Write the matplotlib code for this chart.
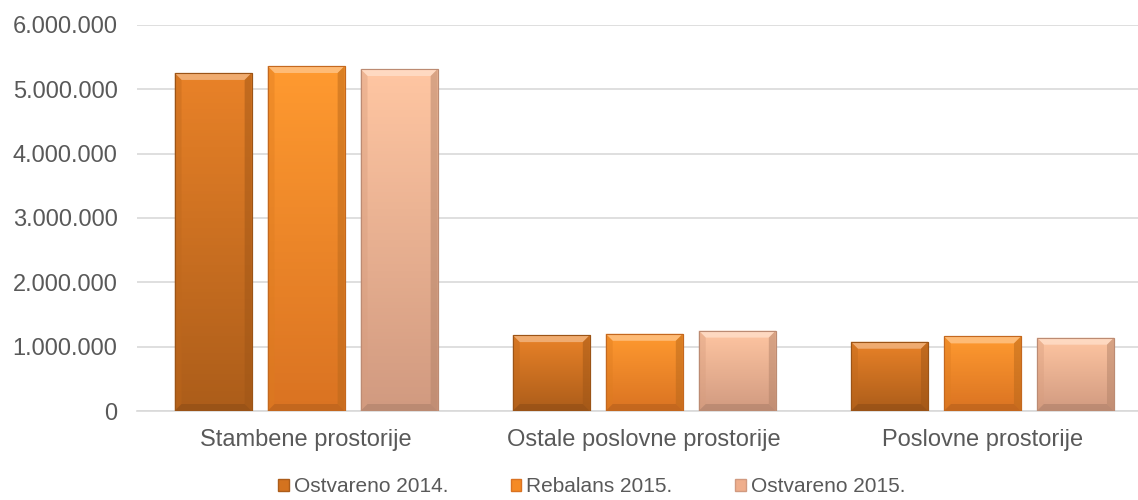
import numpy as np
import matplotlib
matplotlib.use("Agg")
import matplotlib.pyplot as plt
from matplotlib.patches import Polygon, Patch
from matplotlib.colors import LinearSegmentedColormap, to_rgb
from matplotlib.ticker import FuncFormatter

categories = ["Stambene prostorije", "Ostale poslovne prostorije", "Poslovne prostorije"]
series_names = ["Ostvareno 2014.", "Rebalans 2015.", "Ostvareno 2015."]
ostvareno_2014 = [5255000, 1180000, 1077000]
rebalans_2015 = [5363000, 1200000, 1160000]
ostvareno_2015 = [5316000, 1250000, 1140000]

# top colour, bottom colour for each series
top_colors = ["#E98228", "#FF9A30", "#FFC6A2"]
bottom_colors = ["#AC5D1A", "#DA7322", "#D19A80"]
base_colors = ["#D4731F", "#F58A24", "#EFAE8C"]

plt.rcParams['font.family'] = ['Liberation Sans', 'DejaVu Sans']

fig = plt.figure(figsize=(11.38, 5.0), dpi=100)
ax = fig.add_axes([137 / 1138, 89 / 500, 1 - 137 / 1138, 386 / 500])

x = np.arange(len(categories))
step = 0.275
width = 0.228
values = [ostvareno_2014, rebalans_2015, ostvareno_2015]


def shade(c, f):
    r = np.array(to_rgb(c))
    if f > 0:
        return tuple(r + (1 - r) * f)
    return tuple(r * (1 + f))


px_x = 1 / 338.0
px_y = 6000000 / 386.0
bev = 7

for i, vals in enumerate(values):
    bars = ax.bar(x + (i - 1) * step, vals, width, color=base_colors[i],
                  edgecolor=shade(bottom_colors[i], -0.15), linewidth=0.8, zorder=3)
    cmap = LinearSegmentedColormap.from_list("g", [bottom_colors[i], top_colors[i]])
    for b in bars:
        x0, y0 = b.get_x(), b.get_y()
        w, h = b.get_width(), b.get_height()
        grad = np.linspace(1, 0, 100).reshape(-1, 1)
        im = ax.imshow(grad, cmap=cmap, aspect='auto', extent=[x0, x0 + w, y0, y0 + h],
                       zorder=3.1, vmin=0, vmax=1)
        im.set_clip_path(b)
        bx, by = bev * px_x, bev * px_y
        top = y0 + h
        # top bevel (light)
        ax.add_patch(Polygon([[x0, top], [x0 + w, top], [x0 + w - bx, top - by], [x0 + bx, top - by]],
                             closed=True, facecolor=shade(top_colors[i], 0.4), edgecolor='none',
                             alpha=0.85, zorder=3.2))
        # side bevels
        ax.add_patch(Polygon([[x0, top], [x0 + bx, top - by], [x0 + bx, y0 + by], [x0, y0]],
                             closed=True, facecolor=shade(base_colors[i], -0.1), edgecolor='none',
                             alpha=0.4, zorder=3.2))
        ax.add_patch(Polygon([[x0 + w, top], [x0 + w - bx, top - by], [x0 + w - bx, y0 + by], [x0 + w, y0]],
                             closed=True, facecolor=shade(base_colors[i], -0.25), edgecolor='none',
                             alpha=0.5, zorder=3.2))
        # bottom bevel (dark)
        ax.add_patch(Polygon([[x0, y0], [x0 + w, y0], [x0 + w - bx, y0 + by], [x0 + bx, y0 + by]],
                             closed=True, facecolor=shade(bottom_colors[i], -0.2), edgecolor='none',
                             alpha=0.5, zorder=3.2))
        ax.add_patch(Polygon([[x0, y0], [x0 + w, y0], [x0 + w, top], [x0, top]], closed=True,
                             facecolor='none', edgecolor=shade(bottom_colors[i], -0.1),
                             linewidth=0.8, zorder=3.3))

ax.set_xlim(-0.5, 2.46)
ax.set_ylim(0, 6000000)
ax.set_yticks(np.arange(0, 6000001, 1000000))
ax.yaxis.set_major_formatter(FuncFormatter(lambda v, p: f"{int(v):,}".replace(",", ".")))
ax.set_xticks(x)
ax.set_xticklabels(categories)
ax.grid(axis='y', color='#D9D9D9', linewidth=1.2, zorder=0)
ax.set_axisbelow(True)
for s in ['top', 'right', 'left']:
    ax.spines[s].set_visible(False)
ax.spines['bottom'].set_color('#D9D9D9')
ax.spines['bottom'].set_linewidth(1.2)
ax.tick_params(axis='both', length=0, labelsize=17, colors='#595959')
ax.tick_params(axis='x', pad=13)
ax.tick_params(axis='y', pad=14)

handles = [Patch(facecolor=base_colors[i], edgecolor=bottom_colors[i]) for i in range(3)]
fig.legend(handles, series_names, loc='center', bbox_to_anchor=(0.52, 13 / 500), ncol=3,
           frameon=False, fontsize=15, labelcolor='#595959', handlelength=0.5, handleheight=0.5,
           handletextpad=0.25, columnspacing=3.0)

fig.savefig("out.png", dpi=100)
